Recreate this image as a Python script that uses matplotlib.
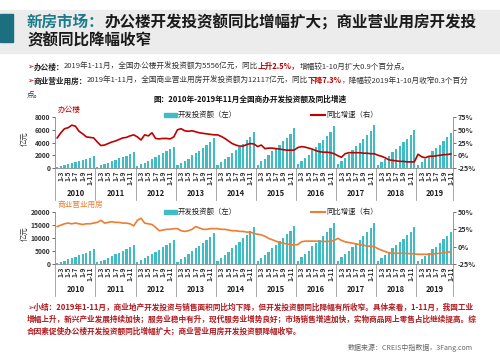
import numpy as np
import matplotlib
matplotlib.use('Agg')
from matplotlib import pyplot as plt
from matplotlib.patches import Rectangle
from matplotlib.lines import Line2D
import matplotlib.transforms as mtransforms

plt.rcParams['font.family'] = ['Noto Sans CJK SC', 'DejaVu Sans']

years = ['2010', '2011', '2012', '2013', '2014', '2015', '2016', '2017', '2018', '2019']
months = ['1-2', '1-3', '1-4', '1-5', '1-6', '1-7', '1-8', '1-9', '1-10', '1-11', '1-12']

# office building development investment (100m yuan, cumulative) and yoy growth (%)
office_inv = [
    [160, 310, 430, 580, 780, 920, 1070, 1230, 1390, 1570, 1807],
    [230, 430, 610, 810, 1090, 1300, 1500, 1730, 1960, 2210, 2544],
    [300, 570, 810, 1080, 1450, 1720, 1990, 2290, 2590, 2930, 3367],
    [410, 790, 1110, 1490, 2000, 2370, 2740, 3160, 3580, 4050, 4652],
    [490, 950, 1340, 1800, 2420, 2870, 3330, 3840, 4340, 4910, 5641],
    [540, 1040, 1470, 1980, 2660, 3160, 3660, 4220, 4780, 5400, 6210],
    [560, 1090, 1550, 2080, 2800, 3330, 3850, 4440, 5030, 5680, 6533],
    [570, 1110, 1580, 2140, 2880, 3420, 3980, 4600, 5200, 5880, 6761],
    [500, 960, 1380, 1850, 2510, 2990, 3480, 4020, 4560, 5170, 5996],
    [520, 1000, 1420, 1920, 2600, 3100, 3620, 4220, 4890, 5556],
]
office_yoy = [
    [34, 44, 52, 54, 59, 57, 47, 42, 36, 35, 34],
    [26, 19, 20, 23, 26, 28, 31, 34, 35, 38, 40],
    [36, 30, 40, 38, 44, 33, 32, 33, 33, 32, 36],
    [50, 52, 48, 47, 48, 46, 44, 43, 42, 41, 40],
    [40, 37, 33, 28, 23, 20, 18, 18, 21, 23, 22],
    [17, 20, 13, 14, 14, 13, 12, 11, 10, 10, 10],
    [15, 17, 16, 14, 12, 9, 7, 6, 6, 5, 3],
    [-1, -4, 3, 5, 5, 5, 5, 4, 4, 3, 3],
    [0, -2, -5, -9, -10, -11, -12, -12, -13, -13, -13],
    [2, -3, -5, -2, -2, -1, 0, 1, 1.5, 2.5],
]

# commercial building development investment and yoy growth
shop_inv = [
    [450, 900, 1300, 1780, 2400, 2850, 3320, 3850, 4350, 4950, 5599],
    [600, 1200, 1730, 2370, 3170, 3760, 4370, 5050, 5720, 6500, 7370],
    [750, 1500, 2170, 2960, 4000, 4750, 5520, 6380, 7240, 8220, 9312],
    [960, 1920, 2790, 3800, 5130, 6100, 7080, 8180, 9280, 10530, 11945],
    [1150, 2300, 3350, 4560, 6170, 7320, 8500, 9830, 11150, 12650, 14346],
    [1180, 2350, 3420, 4660, 6290, 7460, 8660, 10010, 11350, 12880, 14607],
    [1270, 2540, 3700, 5040, 6820, 8090, 9390, 10850, 12300, 13950, 15838],
    [1260, 2520, 3660, 4980, 6730, 7990, 9280, 10720, 12150, 13780, 15640],
    [1140, 2280, 3310, 4510, 6100, 7240, 8410, 9710, 11010, 12490, 14177],
    [1050, 2100, 3050, 4200, 5650, 6700, 7950, 9450, 10720, 12117],
]
shop_yoy = [
    [29, 31, 33, 34, 33, 34, 33, 32, 33, 33, 34],
    [35, 38, 34, 35, 36, 35, 35, 34, 34, 33, 30],
    [38, 41, 34, 33, 32, 28, 23, 24, 25, 25, 26],
    [26, 23, 22, 23, 25, 29, 27, 25, 25, 26, 26],
    [26, 25, 25, 24, 23, 23, 22, 22, 21, 21, 19],
    [18, 17, 15, 12, 10, 8, 6, 5, 4, 3, 2.5],
    [3, 7, 8, 8, 8, 8, 7.5, 7.5, 7.5, 8, 9],
    [12, 9, 7, 6, 5, 4, 3, 2, 1, 0.5, 0],
    [-3, -5, -7, -9, -9.5, -9.5, -9.5, -9.5, -10, -10, -10.5],
    [-11, -11, -11, -11, -10.5, -10, -9.5, -9, -8, -7.3],
]

W, H = 500, 353
fig = plt.figure(figsize=(W / 100, H / 100), dpi=100)
renderer = fig.canvas.get_renderer()

bar_color = '#3fbcc4'
teal = '#1c7c8c'
red = '#c00000'
orange = '#ed7d31'


def fx(px):
    return px / W


def fy(py):
    return 1 - py / H


def write_line(x, y, parts, size):
    # draw text pieces one after another on the same line
    x = fx(x)
    for s, color, weight in parts:
        t = fig.text(x, fy(y), s, color=color, fontsize=size, fontweight=weight, va='center')
        bb = t.get_window_extent(renderer=renderer)
        x += bb.width / fig.bbox.width


# header
fig.add_artist(Rectangle((0, fy(53)), 1, 43 / H, transform=fig.transFigure, color='#ececec', zorder=0))
fig.add_artist(Rectangle((0, fy(42)), fx(12.5), 28 / H, transform=fig.transFigure, color='#1b6f80', zorder=1))
write_line(27, 22, [('新房市场：', teal, 'bold'),
                    ('办公楼开发投资额同比增幅扩大；商业营业用房开发投', '#1a1a1a', 'bold')], 11.2)
write_line(27, 40, [('资额同比降幅收窄', '#1a1a1a', 'bold')], 11.2)

fs = 5.5
write_line(27, 67, [('➢', red, 'normal'), ('办公楼：', '#222', 'bold'),
                    ('2019年1-11月，全国办公楼开发投资额为5556亿元，同比', '#333', 'normal'),
                    ('上升2.5%，', red, 'bold'),
                    ('增幅较1-10月扩大0.9个百分点。', '#333', 'normal')], fs)
write_line(27, 81, [('➢', red, 'normal'), ('商业营业用房：', '#222', 'bold'),
                    ('2019年1-11月，全国商业营业用房开发投资额为12117亿元，同比', '#333', 'normal'),
                    ('下降7.3%', red, 'bold'),
                    ('，降幅较2019年1-10月收窄0.3个百分', '#333', 'normal')], fs)
write_line(27, 95, [('点。', '#333', 'normal')], fs)

fig.text(0.5, fy(99.5), '图：2010年-2019年11月全国商办开发投资额及同比增速', ha='center', va='center',
         fontsize=5.5, fontweight='bold', color='#111')


def draw_chart(top, bottom, inv, yoy, left_max, left_ticks, rlim, rticks, line_color, name, leg_y):
    ax = fig.add_axes([fx(55), fy(bottom), fx(453) - fx(55), (bottom - top) / H])
    vals = [v for block in inv for v in block]
    growth = [v for block in yoy for v in block]
    x = np.arange(len(vals))
    ax.bar(x, vals, width=0.62, color=bar_color, zorder=2)
    ax.set_xlim(-0.6, len(vals) - 0.4)
    ax.set_ylim(0, left_max)
    ax.set_yticks(left_ticks)
    ax.set_yticklabels([str(t) for t in left_ticks], fontweight='bold')
    ax.tick_params(axis='y', labelsize=4.8, length=2, width=0.5, pad=1.5, colors='#333')
    ax.spines['top'].set_visible(False)
    ax.spines['right'].set_visible(False)
    for s in ('left', 'bottom'):
        ax.spines[s].set_color('#888')
        ax.spines[s].set_linewidth(0.6)
    ax.patch.set_alpha(0)

    trans = mtransforms.blended_transform_factory(ax.transData, ax.transAxes)
    pos, labs = [], []
    start = 0
    ax.plot([-0.6, -0.6], [0, -0.62], transform=trans, color='#999', lw=0.6, clip_on=False)
    for yr, block in zip(years, inv):
        n = len(block)
        for j in (1, 3, 5, 7, 9):
            pos.append(start + j)
            labs.append(months[j])
        ax.text(start + (n - 1) / 2, -0.5, yr, transform=trans, ha='center', va='center',
                fontsize=5.5, fontweight='bold', color='#222')
        start += n
        b = start - 0.5 if start < len(vals) else len(vals) - 0.4
        ax.plot([b, b], [0, -0.62], transform=trans, color='#999', lw=0.6, clip_on=False)
    ax.set_xticks(pos)
    ax.set_xticklabels(labs, rotation=90, fontsize=4.8, fontweight='bold', color='#333')
    ax.tick_params(axis='x', length=0, pad=2)

    ax2 = ax.twinx()
    ax2.plot(x, growth, color=line_color, lw=1.2, zorder=3)
    ax2.set_ylim(rlim)
    ax2.set_yticks(rticks)
    ax2.set_yticklabels([f'{t}%' for t in rticks], fontweight='bold')
    ax2.tick_params(axis='y', labelsize=5.2, length=2, width=0.5, pad=1.5, colors='#333')
    for s in ('top', 'left', 'bottom'):
        ax2.spines[s].set_visible(False)
    ax2.spines['right'].set_color('#888')
    ax2.spines['right'].set_linewidth(0.6)

    fig.text(fx(25), fy((top + bottom) / 2 - 4), '亿元', rotation=90, ha='center', va='center',
             fontsize=5.3, color='#333')
    fig.text(fx(58), fy(top - 7), name, ha='left', va='center', fontsize=5.5, color=line_color)

    # legend
    fig.add_artist(Rectangle((fx(164), fy(leg_y + 2)), fx(13), 4 / H, transform=fig.transFigure,
                             color=bar_color))
    fig.text(fx(178), fy(leg_y), '开发投资额（左）', ha='left', va='center', fontsize=5.3, color='#222')
    fig.add_artist(Line2D([fx(311), fx(325)], [fy(leg_y), fy(leg_y)], transform=fig.transFigure,
                          color=line_color, lw=1.5))
    fig.text(fx(326), fy(leg_y), '同比增速（右）', ha='left', va='center', fontsize=5.3, color='#222')


draw_chart(117, 168, office_inv, office_yoy, 8000, [0, 2000, 4000, 6000, 8000],
           (-25, 75), [-25, 0, 25, 50, 75], red, '办公楼', 115)
draw_chart(212, 264, shop_inv, shop_yoy, 20000, [0, 5000, 10000, 15000, 20000],
           (-25, 50), [-25, 0, 25, 50], orange, '商业营业用房', 211.5)

summ = '#b0191e'
write_line(27, 307, [('➢小结：2019年1-11月，商业地产开发投资与销售面积同比均下降，但开发投资额同比降幅有所收窄。具体来看，1-11月，我国工业',
                      summ, 'bold')], fs)
write_line(27, 319, [('增幅上升，新兴产业发展持续加快；服务业稳中有升，现代服务业增势良好；市场销售增速加快，实物商品网上零售占比继续提高。综',
                      summ, 'bold')], fs)
write_line(27, 331, [('合因素促使办公楼开发投资额同比增幅扩大；商业营业用房开发投资额降幅收窄。', summ, 'bold')], fs)
fig.text(fx(473), fy(348), '数据来源：CREIS中指数据，3Fang.com', ha='right', va='center', fontsize=5,
         color='#666')

fig.savefig('out.png', dpi=100)
